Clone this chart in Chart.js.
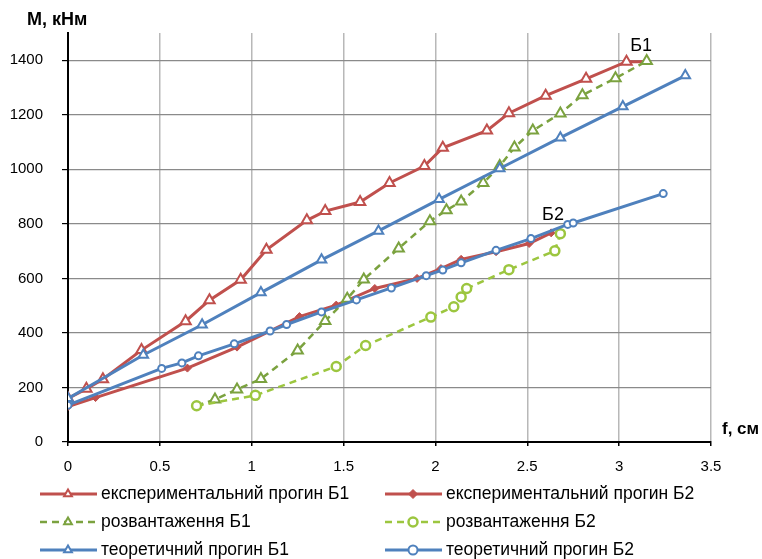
<!DOCTYPE html>
<html>
<head>
<meta charset="utf-8">
<script src="https://cdn.jsdelivr.net/npm/chart.js@4.4.1/dist/chart.umd.min.js"></script>
<style>
  body { margin: 0; background: #fff; }
</style>
</head>
<body>
<canvas id="myChart" width="762" height="559"></canvas>
<script>
// values (f, см / M, кНм)
const expB1X = [0, 0.10, 0.19, 0.40, 0.64, 0.77, 0.94, 1.08, 1.30, 1.40, 1.59, 1.75, 1.94, 2.04, 2.28, 2.40, 2.60, 2.82, 3.04, 3.15];
const expB1Y = [160, 195, 230, 337, 443, 520, 595, 705, 813, 847, 880, 950, 1012, 1079, 1142, 1206, 1270, 1332, 1395, 1395];

const expB2X = [0, 0.15, 0.65, 0.92, 1.26, 1.46, 1.67, 1.90, 2.03, 2.14, 2.33, 2.51, 2.63];
const expB2Y = [130, 163, 271, 348, 460, 502, 563, 600, 636, 670, 698, 728, 767];

const unlB1X = [0.70, 0.80, 0.92, 1.05, 1.25, 1.40, 1.52, 1.61, 1.80, 1.97, 2.06, 2.14, 2.26, 2.35, 2.43, 2.53, 2.68, 2.80, 2.98, 3.15];
const unlB1Y = [133, 156, 193, 231, 336, 444, 525, 596, 710, 810, 850, 882, 950, 1012, 1080, 1142, 1205, 1272, 1334, 1397];

const unlB2X = [0.70, 1.02, 1.46, 1.62, 1.975, 2.10, 2.14, 2.17, 2.40, 2.65, 2.68];
const unlB2Y = [133, 171, 277, 354, 458, 496, 532, 563, 632, 701, 764];

const theoB1X = [0, 0.41, 0.73, 1.05, 1.38, 1.69, 2.02, 2.35, 2.68, 3.02, 3.36];
const theoB1Y = [160, 319, 430, 548, 668, 774, 890, 1003, 1116, 1230, 1344];

const theoB2X = [0, 0.51, 0.62, 0.71, 0.905, 1.10, 1.19, 1.38, 1.57, 1.76, 1.95, 2.04, 2.14, 2.33, 2.52, 2.72, 2.75, 3.24];
const theoB2Y = [135, 270, 290, 316, 360, 407, 431, 477, 521, 565, 610, 631, 657, 703, 746, 798, 803, 911];

const seriesNames = ["експериментальний прогин Б1", "експериментальний прогин Б2",
                     "розвантаження Б1", "розвантаження Б2",
                     "теоретичний прогин Б1", "теоретичний прогин Б2"];

const xTicks = [0, 0.5, 1, 1.5, 2, 2.5, 3, 3.5];
const yTicks = [0, 200, 400, 600, 800, 1000, 1200, 1400];

const curveLabels = ["Б1", "Б2"];
const curveLabelX = [3.12, 2.64];
const curveLabelY = [1452, 832];

const FONT = "'Liberation Sans', Arial, sans-serif";

function pts(xs, ys) {
    return xs.map((x, i) => ({ x: x, y: ys[i] }));
}

const RED = "#C0504D";
const GREEN1 = "#7BA23F";
const GREEN2 = "#9CC63F";
const BLUE = "#4F81BD";

const datasets = [
    {
        label: seriesNames[0], data: pts(expB1X, expB1Y),
        borderColor: RED, borderWidth: 3, pointStyle: "triangle",
        pointRadius: c => c.dataIndex === expB1X.length - 1 ? 0 : 6,
        pointBackgroundColor: "#fff", pointBorderColor: RED, pointBorderWidth: 2, order: 6
    },
    {
        label: seriesNames[1], data: pts(expB2X, expB2Y),
        borderColor: RED, borderWidth: 3, pointStyle: "rectRot", pointRadius: 4,
        pointBackgroundColor: RED, pointBorderColor: RED, pointBorderWidth: 1, order: 5
    },
    {
        label: seriesNames[2], data: pts(unlB1X, unlB1Y),
        borderColor: GREEN1, borderWidth: 2.5, borderDash: [7, 5], pointStyle: "triangle",
        pointRadius: c => c.dataIndex === 0 ? 0 : 6,
        pointBackgroundColor: "#fff", pointBorderColor: GREEN1, pointBorderWidth: 2, order: 4
    },
    {
        label: seriesNames[3], data: pts(unlB2X, unlB2Y),
        borderColor: GREEN2, borderWidth: 2.5, borderDash: [7, 5], pointStyle: "circle", pointRadius: 4.5,
        pointBackgroundColor: "#fff", pointBorderColor: GREEN2, pointBorderWidth: 2.5, order: 3
    },
    {
        label: seriesNames[4], data: pts(theoB1X, theoB1Y),
        borderColor: BLUE, borderWidth: 3, pointStyle: "triangle", pointRadius: 5.5,
        pointBackgroundColor: "#fff", pointBorderColor: BLUE, pointBorderWidth: 2, order: 2
    },
    {
        label: seriesNames[5], data: pts(theoB2X, theoB2Y),
        borderColor: BLUE, borderWidth: 3, pointStyle: "circle", pointRadius: 3.5,
        pointBackgroundColor: "#fff", pointBorderColor: BLUE, pointBorderWidth: 2, order: 1
    }
];

// titles, curve labels and the two-column legend are drawn on the canvas
const extras = {
    id: "extras",
    afterDraw(chart) {
        const ctx = chart.ctx;
        const xs = chart.scales.x, ys = chart.scales.y;
        ctx.save();
        ctx.fillStyle = "#000";
        ctx.textBaseline = "middle";

        ctx.textAlign = "left";
        ctx.font = "bold 18px " + FONT;
        ctx.fillText("M, кНм", 27, 20);
        ctx.font = "bold 17px " + FONT;
        ctx.fillText("f, см", 722, 429);

        ctx.font = "18px " + FONT;
        ctx.textAlign = "center";
        curveLabels.forEach((t, i) => {
            ctx.fillText(t, xs.getPixelForValue(curveLabelX[i]), ys.getPixelForValue(curveLabelY[i]));
        });

        const rowY = [494, 522, 550];
        const colX = [40, 385];
        ctx.font = "17.5px " + FONT;
        ctx.textAlign = "left";
        datasets.forEach((ds, i) => {
            const x0 = colX[i % 2], y = rowY[Math.floor(i / 2)];
            ctx.strokeStyle = ds.borderColor;
            ctx.lineWidth = ds.borderWidth;
            ctx.setLineDash(ds.borderDash || []);
            ctx.beginPath();
            ctx.moveTo(x0, y);
            ctx.lineTo(x0 + 57, y);
            ctx.stroke();
            ctx.setLineDash([]);
            ctx.fillStyle = ds.pointBackgroundColor;
            ctx.strokeStyle = ds.pointBorderColor;
            ctx.lineWidth = ds.pointBorderWidth;
            Chart.helpers.drawPoint(ctx, { pointStyle: ds.pointStyle, radius: 4.5, rotation: 0, borderWidth: ds.pointBorderWidth }, x0 + 28, y);
            ctx.fillStyle = "#000";
            ctx.fillText(ds.label, x0 + 61, y);
        });
        ctx.restore();
    }
};

new Chart(document.getElementById("myChart"), {
    type: "scatter",
    data: { datasets: datasets.map(d => Object.assign({ showLine: true, fill: false, tension: 0 }, d)) },
    options: {
        responsive: false,
        animation: false,
        devicePixelRatio: 1,
        layout: { padding: { left: 0, right: 51, top: 33, bottom: 87 } },
        plugins: { legend: { display: false }, tooltip: { enabled: false } },
        scales: {
            x: {
                type: "linear", min: 0, max: 3.5,
                afterBuildTicks: s => { s.ticks = xTicks.map(v => ({ value: v })); },
                afterFit: s => { s.height = 30; },
                ticks: { color: "#000", font: { family: FONT, size: 15 }, padding: 12, callback: v => String(v) },
                grid: { color: "#b8b8b8", lineWidth: 1.5, tickColor: "#000", tickLength: 4 },
                border: { color: "#000", width: 2 }
            },
            y: {
                type: "linear", min: 0, max: 1500,
                afterBuildTicks: s => { s.ticks = yTicks.map(v => ({ value: v })); },
                afterFit: s => { s.width = 68; },
                ticks: { color: "#000", font: { family: FONT, size: 15 }, padding: 19, callback: v => String(v) },
                grid: { color: "#8a8a8a", lineWidth: 1.2, tickColor: "#000", tickLength: 6 },
                border: { color: "#000", width: 2 }
            }
        }
    },
    plugins: [extras]
});
</script>
</body>
</html>
